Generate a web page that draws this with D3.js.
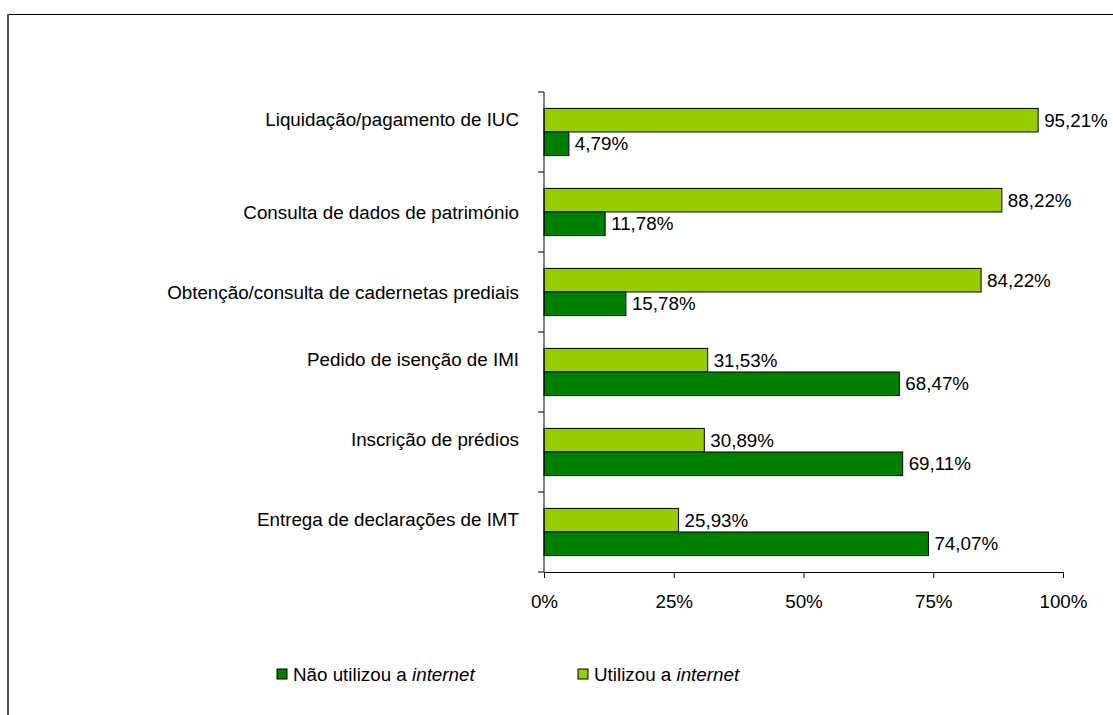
<!DOCTYPE html>
<html>
<head>
<meta charset="utf-8">
<script src="https://cdn.jsdelivr.net/npm/d3@7"></script>
<style>
  body { margin: 0; background: #fff; }
  svg text { font-family: "Liberation Sans", Arial, sans-serif; font-size: 18.8px; fill: #000; }
</style>
</head>
<body>
<div id="chart"></div>
<script>
// Categories, top to bottom (second line empty = label sits higher, as in the original)
const categories = [
    "Liquidação/pagamento de IUC",
    "Consulta de dados de património",
    "Obtenção/consulta de cadernetas prediais",
    "Pedido de isenção de IMI",
    "Inscrição de prédios",
    "Entrega de declarações de IMT"
];
const categoryLines = [
    ["Liquidação/pagamento de IUC", ""],
    ["Consulta de dados de património"],
    ["Obtenção/consulta de cadernetas prediais"],
    ["Pedido de isenção de IMI", ""],
    ["Inscrição de prédios", ""],
    ["Entrega de declarações de IMT", ""]
];
const utilizou = [95.21, 88.22, 84.22, 31.53, 30.89, 25.93];
const naoUtilizou = [4.79, 11.78, 15.78, 68.47, 69.11, 74.07];
const xTicks = [0, 25, 50, 75, 100];
const seriesNames = ["Não utilizou a ", "Utilizou a "];

const width = 1113, height = 715;
const svg = d3.select("#chart").append("svg")
    .attr("width", width)
    .attr("height", height);

// Frame: top and left edges only
svg.append("line").attr("x1", 8).attr("x2", width).attr("y1", 14.5).attr("y2", 14.5)
    .attr("stroke", "#000").attr("stroke-width", 1);
svg.append("line").attr("x1", 8).attr("x2", 8).attr("y1", 14).attr("y2", height)
    .attr("stroke", "#555").attr("stroke-width", 2);

const x = d3.scaleLinear().domain([0, 100]).range([544, 1063]);
const y = d3.scaleBand().domain(categories).range([92, 572])
    .paddingInner(0.41).paddingOuter(0.205);
const sub = d3.scaleBand().domain(["u", "n"]).range([0, y.bandwidth()]);

const colors = { u: "#99CC00", n: "#008000" };
const fmt = v => d3.format(".2f")(v).replace(".", ",") + "%";

// Bars
const rows = categories.map((c, i) => ({ c, u: utilizou[i], n: naoUtilizou[i] }));
const groups = svg.append("g").selectAll("g")
    .data(rows)
    .join("g")
    .attr("transform", d => `translate(0,${y(d.c)})`);

["u", "n"].forEach(k => {
    groups.append("rect")
        .attr("x", x(0))
        .attr("y", sub(k))
        .attr("width", d => x(d[k]) - x(0))
        .attr("height", sub.bandwidth())
        .attr("fill", colors[k])
        .attr("stroke", "#000")
        .attr("stroke-width", 1);
    groups.append("text")
        .attr("x", d => x(d[k]) + 6)
        .attr("y", sub(k) + sub.bandwidth() / 2)
        .attr("dy", "0.35em")
        .text(d => fmt(d[k]));
});

// Y axis line and tick marks at category boundaries
const yAxis = svg.append("g");
yAxis.append("line").attr("x1", x(0)).attr("x2", x(0)).attr("y1", 92).attr("y2", 572)
    .attr("stroke", "#000");
yAxis.selectAll("line.tick")
    .data(d3.range(categories.length + 1))
    .join("line")
    .attr("class", "tick")
    .attr("x1", x(0) - 6).attr("x2", x(0))
    .attr("y1", i => 92 + i * y.step()).attr("y2", i => 92 + i * y.step())
    .attr("stroke", "#000");

// Category labels
yAxis.selectAll("text")
    .data(categories)
    .join("text")
    .attr("text-anchor", "end")
    .each(function(c, i) {
        const lines = categoryLines[i];
        const lh = 26;
        const cy = y(c) + y.bandwidth() / 2 - (lines.length - 1) * lh / 2;
        d3.select(this).selectAll("tspan")
            .data(lines)
            .join("tspan")
            .attr("x", 519)
            .attr("y", (l, j) => cy + j * lh)
            .attr("dy", "0.35em")
            .text(l => l);
    });

// X axis
const xAxis = svg.append("g").attr("transform", "translate(0,572)")
    .call(d3.axisBottom(x).tickValues(xTicks).tickSize(6).tickSizeOuter(0)
        .tickFormat(d => d + "%"));
xAxis.select(".domain").attr("stroke", "#000");
xAxis.selectAll(".tick line").attr("stroke", "#000");
xAxis.selectAll(".tick text")
    .attr("y", 29)
    .attr("dy", "0.35em")
    .style("font-family", "'Liberation Sans', Arial, sans-serif")
    .style("font-size", "18.8px")
    .attr("fill", "#000");

// Legend
const legendKeys = ["n", "u"];
const legendX = [277, 578];
const legend = svg.append("g").selectAll("g")
    .data(legendKeys)
    .join("g")
    .attr("transform", (k, i) => `translate(${legendX[i]},669)`);
legend.append("rect")
    .attr("width", 10).attr("height", 10)
    .attr("fill", k => colors[k])
    .attr("stroke", "#000");
legend.append("text")
    .attr("x", 16).attr("y", 5).attr("dy", "0.35em")
    .each(function(k, i) {
        const t = d3.select(this);
        t.append("tspan").text(seriesNames[i]);
        t.append("tspan").style("font-style", "italic").text("internet");
    });
</script>
</body>
</html>
